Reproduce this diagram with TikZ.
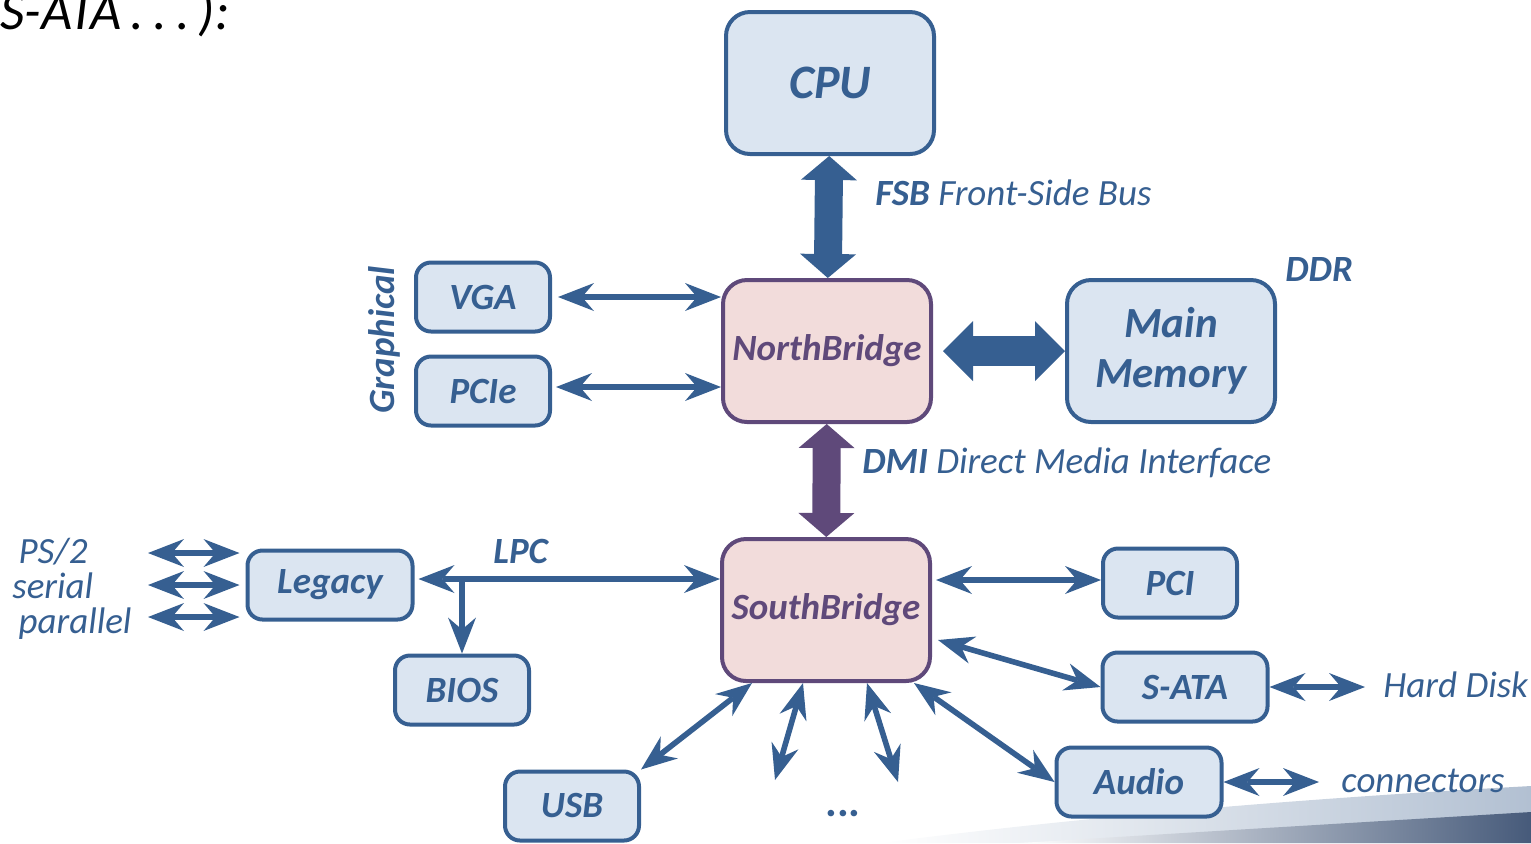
\documentclass[tikz,border=0pt]{standalone}
\usepackage{fontspec}
\setmainfont{Carlito}
\usetikzlibrary{arrows.meta}
\definecolor{busblue}{RGB}{54,95,145}
\definecolor{chipfill}{RGB}{219,229,241}
\definecolor{bridgefill}{RGB}{242,220,219}
\definecolor{bridgeline}{RGB}{95,73,122}
\definecolor{swooshlight}{RGB}{178,192,210}
\definecolor{swooshdark}{RGB}{70,90,122}

\begin{document}
\begin{tikzpicture}[x=0.5pt,y=-0.5pt]
			\tikzset{chip/.style = {shape=rectangle,rounded corners=7.5pt,draw=busblue,line width=2pt,
					fill=chipfill,text=busblue,inner sep=0pt,minimum width=67pt,minimum height=34.5pt,
					font=\fontsize{18.5}{22}\selectfont\bfseries\itshape}}
			\tikzset{widechip/.style = {chip,minimum width=82.5pt}}
			\tikzset{bigchip/.style = {chip,rounded corners=12pt,minimum width=104pt,minimum height=71pt}}
			\tikzset{bridge/.style = {bigchip,draw=bridgeline,fill=bridgefill,text=bridgeline}}
			\tikzset{lbl/.style = {text=busblue,inner sep=0pt,font=\fontsize{18.5}{17.5}\selectfont\itshape}}
			\tikzset{boldlbl/.style = {lbl,font=\fontsize{18.5}{17.5}\selectfont\bfseries\itshape}}
			\tikzset{link/.style = {<->,>={Stealth[length=18pt,width=14pt,inset=6pt,line width=0pt]},
					draw=busblue,line width=2.8pt}}
			\tikzset{fatlink/.style = {<->,>={Triangle[length=12pt,width=28pt,line width=0pt]},
					draw=busblue,line width=14pt}}
			\useasboundingbox (0,0) rectangle (1531,843);
			% background swoosh
			\shade[left color=white,right color=swooshlight] (880,843) .. controls (1120,812) and (1350,796) .. (1531,786) -- (1531,843) -- cycle;
			\shade[left color=white,right color=swooshdark] (1020,843) .. controls (1230,830) and (1400,820) .. (1531,812) -- (1531,843) -- cycle;
			
			\node[anchor=base east,inner sep=0pt,font=\fontsize{27}{30}\selectfont\itshape] (intro) at (230,29) {S-ATA\,.\,.\,.\,):};
			
			% chips
			\node[bigchip,font=\fontsize{24}{28}\selectfont\bfseries\itshape] (cpu) at (830,83) {CPU};
			\node[bridge] (nb) at (827,351) {NorthBridge};
			\node[bigchip,align=center,font=\fontsize{21.5}{25}\selectfont\bfseries\itshape] (mem) at (1171,351) {Main\\Memory};
			\node[chip] (vga) at (483,297) {VGA};
			\node[chip] (pcie) at (483,391) {PCIe};
			\node[bridge] (sb) at (826,610) {SouthBridge};
			\node[chip] (pci) at (1170,583) {PCI};
			\node[widechip] (sata) at (1185,687) {S-ATA};
			\node[widechip] (audio) at (1139,782) {Audio};
			\node[widechip] (legacy) at (330,585) {Legacy};
			\node[chip] (bios) at (462,690) {BIOS};
			\node[chip] (usb) at (572,806) {USB};
			
			% labels
			\node[lbl,anchor=base west] (fsb) at (875,205) {\textbf{FSB} Front-Side Bus};
			\node[boldlbl,anchor=base west] (ddr) at (1285,281) {DDR};
			\node[boldlbl,rotate=90] (graph) at (384,340) {Graphical};
			\node[lbl,anchor=base west] (dmi) at (862,473) {\textbf{DMI} Direct Media Interface};
			\node[boldlbl,anchor=base west] (lpc) at (493,563) {LPC};
			\node[lbl,anchor=west,align=left] (ports) at (12,589) {\,PS/2\\serial\\\,parallel};
			\node[lbl,anchor=base west] (hd) at (1383,697) {Hard Disk};
			\node[lbl,anchor=base west] (conn) at (1341,792) {connectors};
			\node[boldlbl,font=\fontsize{22}{22}\selectfont\bfseries] (dots) at (843,814) {...};
			
			\coordinate (bus) at (462,579);
			\coordinate (p1) at (148,553);
			\coordinate (p2) at (148,585);
			\coordinate (p3) at (148,617);
			\coordinate (x1) at (775,780);
			\coordinate (x2) at (898,782);
			
			%edges
			\draw[fatlink] (cpu) to (nb);
			\draw[fatlink,line width=15pt,>={Triangle[length=15pt,width=30pt,line width=0pt]},shorten <=5pt] (nb) to (mem);
			\draw[fatlink,draw=bridgeline] (nb) to (sb);
			
			\draw[link,shorten <=3pt] (vga) to (nb.west |- vga);
			\draw[link,shorten <=2pt] (pcie.east |- 0,387) to (nb.west |- 0,387);
			\draw[link,shorten <=2pt] (legacy.east |- bus) to (sb.west |- bus);
			\draw[link,<-] (bios) to (bus);
			\draw[link,shorten >=3pt] (p1) to (legacy.west |- p1);
			\draw[link,shorten >=3pt] (p2) to (legacy.west |- p2);
			\draw[link,shorten >=3pt] (p3) to (legacy.west |- p3);
			
			\draw[link,shorten <=2pt] (sb.east |- 0,580) to (pci.west |- 0,580);
			\draw[link] ([xshift=3pt,yshift=-15pt]sb.east) to (sata.west);
			\draw[link] ([xshift=44pt]sb.south) to (audio.west);
			\draw[link] ([xshift=-37pt]sb.south) to (usb.north east);
			\draw[link] ([xshift=-11.5pt]sb.south) to (x1);
			\draw[link] ([xshift=20.5pt]sb.south) to (x2);
			
			\draw[link,shorten >=9pt] (sata) to (hd.west |- sata);
			\draw[link,shorten >=11pt] (audio) to (conn.west |- audio);
\end{tikzpicture}
\end{document}
